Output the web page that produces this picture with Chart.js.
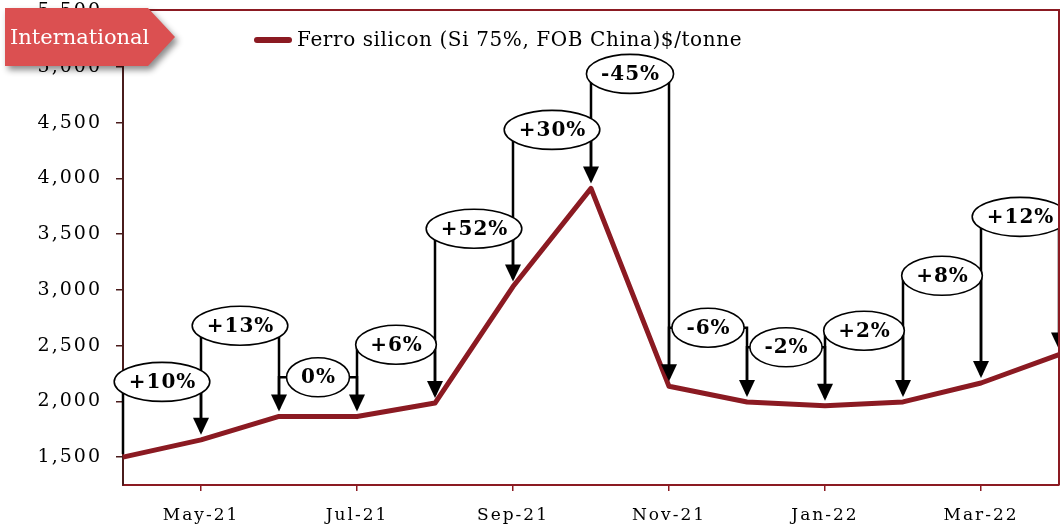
<!DOCTYPE html>
<html>
<head>
<meta charset="utf-8">
<script src="https://cdn.jsdelivr.net/npm/chart.js@4"></script>
<style>
  html, body { margin: 0; padding: 0; background: #fff; }
  #wrap { position: relative; width: 1060px; height: 525px; }
  #tagShadow { position: absolute; left: 5px; top: 8px; filter: drop-shadow(3px 4px 3px rgba(0,0,0,0.45)); }
  #tag {
    width: 170px; height: 58px; background: #db5051; color: #fff;
    clip-path: polygon(0 0, 143px 0, 170px 29px, 143px 58px, 0 58px);
    font: 21px "DejaVu Serif", Georgia, serif;
    line-height: 58px; padding-left: 5px; box-sizing: border-box;
  }
</style>
</head>
<body>
<div id="wrap">
  <canvas id="chart" width="1060" height="525"></canvas>
  <div id="tagShadow"><div id="tag">International</div></div>
</div>
<script>
const months = ["Apr-21", "May-21", "Jun-21", "Jul-21", "Aug-21", "Sep-21", "Oct-21",
                "Nov-21", "Dec-21", "Jan-22", "Feb-22", "Mar-22", "Apr-22"];
const prices = [1500, 1655, 1865, 1865, 1985, 3030, 3910, 2135, 1995, 1960, 1995, 2165, 2420];
const changes = ["+10%", "+13%", "0%", "+6%", "+52%", "+30%", "-45%", "-6%", "-2%", "+2%", "+8%", "+12%"];
const yTicks = [1500, 2000, 2500, 3000, 3500, 4000, 4500, 5000, 5500];

// height (in $/tonne) where each change bubble sits
const calloutLevels = [2175, 2678, 2216, 2508, 3548, 4435, 4937, 2660, 2485, 2633, 3126, 3655];

const RED = "#8b1a22";
const SERIF = '"DejaVu Serif", Georgia, serif';

// Excel-like loose letter spacing for every canvas text
const spacing = {
    id: "spacing",
    beforeInit(chart) { chart.ctx.letterSpacing = "2px"; },
    beforeDraw(chart) { chart.ctx.letterSpacing = "2px"; }
};

const callouts = {
    id: "callouts",
    afterDatasetsDraw(chart) {
        const ctx = chart.ctx;
        const x = chart.scales.x;
        const y = chart.scales.y;
        ctx.save();
        ctx.strokeStyle = "#000";
        ctx.fillStyle = "#000";
        ctx.lineWidth = 2.5;

        for (let i = 0; i < changes.length; i++) {
            const x0 = x.getPixelForValue(i);
            const x1 = x.getPixelForValue(i + 1);
            const yl = y.getPixelForValue(calloutLevels[i]);
            const p0 = y.getPixelForValue(prices[i]);
            const p1 = y.getPixelForValue(prices[i + 1]);

            // left leg, connector and right arrow shaft
            ctx.beginPath();
            ctx.moveTo(x0, i === 0 ? p0 - 3 : p0 - 8);
            ctx.lineTo(x0, yl);
            ctx.lineTo(x1, yl);
            ctx.lineTo(x1, p1 - 20);
            ctx.stroke();

            // arrow head
            ctx.beginPath();
            ctx.moveTo(x1 - 8, p1 - 22);
            ctx.lineTo(x1 + 8, p1 - 22);
            ctx.lineTo(x1, p1 - 5);
            ctx.closePath();
            ctx.fill();
        }

        ctx.font = "bold 20px " + SERIF;
        ctx.letterSpacing = "1px";
        for (let i = 0; i < changes.length; i++) {
            const cx = (x.getPixelForValue(i) + x.getPixelForValue(i + 1)) / 2;
            const cy = y.getPixelForValue(calloutLevels[i]);
            const w = ctx.measureText(changes[i]).width;
            ctx.beginPath();
            ctx.ellipse(cx, cy, w / 2 + 14, 19.5, 0, 0, Math.PI * 2);
            ctx.fillStyle = "#fff";
            ctx.fill();
            ctx.lineWidth = 1.6;
            ctx.stroke();
            ctx.fillStyle = "#000";
            ctx.textAlign = "center";
            ctx.textBaseline = "middle";
            ctx.fillText(changes[i], cx + 0.5, cy + 1);
        }

        // legend
        ctx.strokeStyle = RED;
        ctx.lineWidth = 6;
        ctx.lineCap = "round";
        ctx.beginPath();
        ctx.moveTo(257, 40);
        ctx.lineTo(289, 40);
        ctx.stroke();
        ctx.font = "20px " + SERIF;
        ctx.letterSpacing = "0.6px";
        ctx.textAlign = "left";
        ctx.fillText("Ferro silicon (Si 75%, FOB China)$/tonne", 297, 41);

        // plot frame
        const a = chart.chartArea;
        ctx.strokeStyle = RED;
        ctx.lineWidth = 2;
        ctx.lineCap = "butt";
        ctx.beginPath();
        ctx.moveTo(a.left, a.top);
        ctx.lineTo(a.right, a.top);
        ctx.lineTo(a.right, a.bottom);
        ctx.stroke();
        ctx.restore();
    }
};

new Chart(document.getElementById("chart"), {
    type: "line",
    data: {
        labels: months,
        datasets: [{
            label: "Ferro silicon (Si 75%, FOB China)$/tonne",
            data: prices,
            borderColor: RED,
            borderWidth: 5,
            pointRadius: 0,
            tension: 0,
            borderJoinStyle: "round"
        }]
    },
    options: {
        responsive: false,
        animation: false,
        layout: { padding: { top: 10, right: 1, left: 0, bottom: 0 } },
        plugins: { legend: { display: false }, tooltip: { enabled: false } },
        scales: {
            x: {
                offset: false,
                border: { color: RED, width: 2 },
                grid: { drawOnChartArea: false, tickLength: 6, color: RED, lineWidth: 1.5 },
                ticks: {
                    autoSkip: false,
                    maxRotation: 0,
                    color: "#000",
                    padding: 14,
                    font: { family: SERIF, size: 17 },
                    callback: (v, i) => i % 2 === 1 ? months[i] : null
                },
                afterFit: s => { s.height = 40; s.paddingLeft = 0; s.paddingRight = 0; }
            },
            y: {
                min: 1250,
                max: 5510,
                border: { color: "#4a1c1c", width: 2 },
                grid: { drawOnChartArea: false, tickLength: 7, color: "#4a1c1c", lineWidth: 1.5 },
                afterBuildTicks: s => { s.ticks = yTicks.map(v => ({ value: v })); },
                ticks: {
                    color: "#000",
                    padding: 14,
                    font: { family: SERIF, size: 19 },
                    callback: v => v.toLocaleString("en-US")
                },
                afterFit: s => { s.width = 123; s.paddingTop = 0; s.paddingBottom = 0; }
            }
        }
    },
    plugins: [spacing, callouts]
});
</script>
</body>
</html>
